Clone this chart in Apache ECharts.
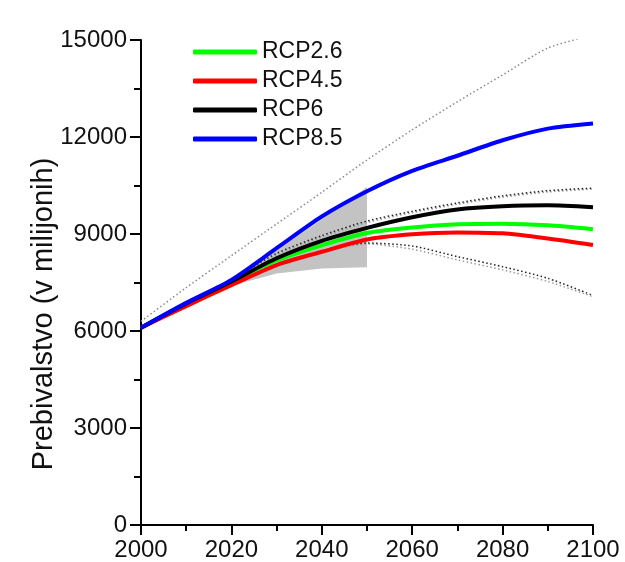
<!DOCTYPE html>
<html>
<head>
<meta charset="utf-8">
<script src="https://cdn.jsdelivr.net/npm/echarts@6/dist/echarts.min.js"></script>
<style>
html,body{margin:0;padding:0;background:#fff;}
#chart{width:625px;height:562px;}
</style>
</head>
<body>
<div id="chart"></div>
<script>
var years = [2000, 2010, 2020, 2030, 2040, 2050, 2060, 2070, 2080, 2090, 2100];
var rcp26 = [6100, 6850, 7530, 8180, 8650, 9030, 9200, 9300, 9320, 9270, 9150];
var rcp45 = [6100, 6770, 7420, 8040, 8450, 8830, 8990, 9050, 9020, 8860, 8660];
var rcp6  = [6100, 6850, 7530, 8250, 8790, 9190, 9520, 9760, 9860, 9890, 9830];
var rcp85 = [6100, 6870, 7580, 8560, 9540, 10320, 10950, 11420, 11900, 12260, 12420];
var outerUpper = [6300, 7340, 8330, 9310, 10290, 11290, 12220, 13090, 13920, 14750, 15150];
var innerUpperBlack = [6100, 6860, 7600, 8400, 8950, 9400, 9700, 9960, 10180, 10340, 10420];
var innerUpperGray  = [6100, 6850, 7580, 8350, 8900, 9350, 9660, 9920, 10140, 10300, 10390];
var lowerBlack = [6100, 6780, 7430, 8060, 8470, 8720, 8630, 8300, 7990, 7630, 7100];
var lowerGray  = [6100, 6780, 7420, 8040, 8440, 8690, 8530, 8200, 7890, 7530, 7060];
var bandYears = [2000, 2010, 2020, 2030, 2040, 2050];
var bandLower = [6100, 6800, 7400, 7780, 7930, 7970];
var bandUpper = [6100, 6850, 7550, 8500, 9450, 10450];
var yTicks = [0, 3000, 6000, 9000, 12000, 15000];
var xTicks = [2000, 2020, 2040, 2060, 2080, 2100];
var legendNames = ['RCP2.6', 'RCP4.5', 'RCP6', 'RCP8.5'];

function pairs(xs, ys) { return xs.map(function (x, i) { return [x, ys[i]]; }); }

var FONT = "'Liberation Sans', Arial, Helvetica, sans-serif";
var chart = echarts.init(document.getElementById('chart'), null, {renderer: 'canvas'});

function dotted(name, data, color, width) {
  return {
    name: name, type: 'line', data: pairs(years, data), showSymbol: false, symbol: 'none',
    clip: true, silent: true, z: 2, smooth: 0.25,
    lineStyle: {color: color, width: width, type: [1.5, 2.5]}
  };
}
function main(name, data, color) {
  return {
    name: name, type: 'line', data: pairs(years, data), showSymbol: false, symbol: 'none',
    z: 5, smooth: 0.25, lineStyle: {color: color, width: 4}, itemStyle: {color: color}
  };
}

var option = {
  animation: false,
  backgroundColor: '#fff',
  grid: {left: 141, right: 32, top: 40, bottom: 37, containLabel: false},
  legend: {
    data: legendNames, orient: 'vertical', left: 193, top: 40, padding: 0,
    icon: 'roundRect', itemWidth: 64, itemHeight: 5, itemGap: 5,
    textStyle: {fontFamily: FONT, fontSize: 23, lineHeight: 24, color: '#111', padding: [0,0,0,0]}
  },
  xAxis: {
    type: 'value', min: xTicks[0], max: xTicks[xTicks.length - 1], interval: 20,
    axisLine: {show: true, onZero: false, lineStyle: {color: '#000', width: 2}},
    axisTick: {show: true, length: 10, lineStyle: {color: '#000', width: 2}},
    minorTick: {show: true, splitNumber: 2, length: 6, lineStyle: {color: '#000', width: 2}},
    splitLine: {show: false},
    axisLabel: {margin: 13, fontFamily: FONT, fontSize: 24, color: '#111',
      formatter: function (v) { return String(v); }}
  },
  yAxis: {
    type: 'value', min: yTicks[0], max: yTicks[yTicks.length - 1], interval: 3000,
    axisLine: {show: true, lineStyle: {color: '#000', width: 2}},
    axisTick: {show: true, length: 11, lineStyle: {color: '#000', width: 2}},
    minorTick: {show: true, splitNumber: 2, length: 7, lineStyle: {color: '#000', width: 2}},
    splitLine: {show: false},
    axisLabel: {margin: 14, fontFamily: FONT, fontSize: 24, color: '#111',
      formatter: function (v) { return String(v); }}
  },
  graphic: [{
    type: 'text', x: 44, y: 314, rotation: Math.PI / 2,
    style: {text: 'Prebivalstvo (v milijonih)', fontFamily: FONT, fontSize: 29, fill: '#111',
      textAlign: 'center', textVerticalAlign: 'middle'}
  }],
  series: [
    {
      name: 'band', type: 'custom', z: 1, silent: true,
      data: [[bandYears[0], bandLower[0]]],
      renderItem: function (params, api) {
        var pts = [];
        for (var i = 0; i < bandYears.length; i++) pts.push(api.coord([bandYears[i], bandUpper[i]]));
        for (var j = bandYears.length - 1; j >= 0; j--) pts.push(api.coord([bandYears[j], bandLower[j]]));
        return {type: 'polygon', shape: {points: pts}, style: {fill: '#c3c3c3'}};
      }
    },
    dotted('outerUpper', outerUpper, '#8a8a8a', 1.5),
    dotted('innerUpperGray', innerUpperGray, '#9a9a9a', 1.5),
    dotted('innerUpperBlack', innerUpperBlack, '#222', 1.5),
    dotted('lowerGray', lowerGray, '#9a9a9a', 1.5),
    dotted('lowerBlack', lowerBlack, '#222', 1.5),
    main('RCP2.6', rcp26, '#00ff00'),
    main('RCP4.5', rcp45, '#ff0000'),
    main('RCP6', rcp6, '#000000'),
    main('RCP8.5', rcp85, '#0000ff')
  ]
};
chart.setOption(option);
</script>
</body>
</html>
